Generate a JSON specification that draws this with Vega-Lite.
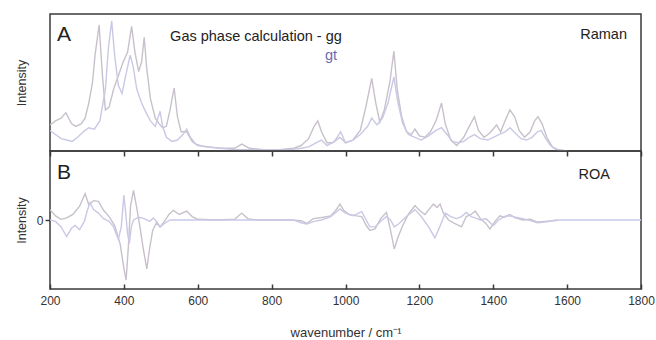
{
  "$schema": "https://vega.github.io/schema/vega-lite/v6.json",
  "padding": {"left": 14, "top": 13, "right": 1, "bottom": 2},
  "background": "white",
  "config": {
    "font": "Liberation Sans",
    "view": {"stroke": "#3a3a3a", "strokeWidth": 1.5},
    "axis": {"grid": false, "labelFont": "Liberation Sans", "titleFont": "Liberation Sans", "titleFontWeight": "normal", "labelColor": "#333", "titleColor": "#333", "tickColor": "#3a3a3a", "tickWidth": 1.5}
  },
  "datasets": {
    "spec": [
      {"p":"A","s":"gg","w":200,"v":19},{"p":"A","s":"gg","w":215,"v":22},{"p":"A","s":"gg","w":230,"v":24},{"p":"A","s":"gg","w":243,"v":28},{"p":"A","s":"gg","w":258,"v":20},{"p":"A","s":"gg","w":270,"v":18},{"p":"A","s":"gg","w":285,"v":20},{"p":"A","s":"gg","w":295,"v":24},{"p":"A","s":"gg","w":305,"v":35},{"p":"A","s":"gg","w":315,"v":50},{"p":"A","s":"gg","w":322,"v":70},{"p":"A","s":"gg","w":333,"v":92},{"p":"A","s":"gg","w":342,"v":55},{"p":"A","s":"gg","w":350,"v":30},{"p":"A","s":"gg","w":360,"v":32},{"p":"A","s":"gg","w":372,"v":45},{"p":"A","s":"gg","w":385,"v":55},{"p":"A","s":"gg","w":398,"v":65},{"p":"A","s":"gg","w":410,"v":72},{"p":"A","s":"gg","w":421,"v":91},{"p":"A","s":"gg","w":430,"v":72},{"p":"A","s":"gg","w":440,"v":58},{"p":"A","s":"gg","w":448,"v":65},{"p":"A","s":"gg","w":455,"v":83},{"p":"A","s":"gg","w":462,"v":60},{"p":"A","s":"gg","w":472,"v":38},{"p":"A","s":"gg","w":485,"v":24},{"p":"A","s":"gg","w":495,"v":20},{"p":"A","s":"gg","w":505,"v":17},{"p":"A","s":"gg","w":515,"v":18},{"p":"A","s":"gg","w":525,"v":30},{"p":"A","s":"gg","w":536,"v":46},{"p":"A","s":"gg","w":545,"v":25},{"p":"A","s":"gg","w":555,"v":14},{"p":"A","s":"gg","w":570,"v":14},{"p":"A","s":"gg","w":585,"v":7},{"p":"A","s":"gg","w":600,"v":4},{"p":"A","s":"gg","w":630,"v":3},{"p":"A","s":"gg","w":660,"v":2},{"p":"A","s":"gg","w":700,"v":2},{"p":"A","s":"gg","w":719,"v":5},{"p":"A","s":"gg","w":740,"v":2},{"p":"A","s":"gg","w":780,"v":1},{"p":"A","s":"gg","w":820,"v":1},{"p":"A","s":"gg","w":860,"v":2},{"p":"A","s":"gg","w":880,"v":4},{"p":"A","s":"gg","w":900,"v":9},{"p":"A","s":"gg","w":915,"v":18},{"p":"A","s":"gg","w":925,"v":22},{"p":"A","s":"gg","w":935,"v":14},{"p":"A","s":"gg","w":950,"v":6},{"p":"A","s":"gg","w":965,"v":6},{"p":"A","s":"gg","w":985,"v":10},{"p":"A","s":"gg","w":1000,"v":6},{"p":"A","s":"gg","w":1020,"v":8},{"p":"A","s":"gg","w":1040,"v":15},{"p":"A","s":"gg","w":1055,"v":32},{"p":"A","s":"gg","w":1071,"v":53},{"p":"A","s":"gg","w":1082,"v":35},{"p":"A","s":"gg","w":1093,"v":21},{"p":"A","s":"gg","w":1105,"v":30},{"p":"A","s":"gg","w":1120,"v":50},{"p":"A","s":"gg","w":1131,"v":73},{"p":"A","s":"gg","w":1140,"v":45},{"p":"A","s":"gg","w":1152,"v":25},{"p":"A","s":"gg","w":1165,"v":14},{"p":"A","s":"gg","w":1178,"v":12},{"p":"A","s":"gg","w":1188,"v":16},{"p":"A","s":"gg","w":1200,"v":11},{"p":"A","s":"gg","w":1215,"v":10},{"p":"A","s":"gg","w":1230,"v":14},{"p":"A","s":"gg","w":1245,"v":22},{"p":"A","s":"gg","w":1260,"v":35},{"p":"A","s":"gg","w":1270,"v":20},{"p":"A","s":"gg","w":1285,"v":8},{"p":"A","s":"gg","w":1301,"v":4},{"p":"A","s":"gg","w":1320,"v":10},{"p":"A","s":"gg","w":1335,"v":18},{"p":"A","s":"gg","w":1349,"v":25},{"p":"A","s":"gg","w":1360,"v":15},{"p":"A","s":"gg","w":1375,"v":10},{"p":"A","s":"gg","w":1390,"v":13},{"p":"A","s":"gg","w":1409,"v":19},{"p":"A","s":"gg","w":1420,"v":14},{"p":"A","s":"gg","w":1432,"v":22},{"p":"A","s":"gg","w":1445,"v":30},{"p":"A","s":"gg","w":1458,"v":25},{"p":"A","s":"gg","w":1470,"v":15},{"p":"A","s":"gg","w":1485,"v":10},{"p":"A","s":"gg","w":1500,"v":14},{"p":"A","s":"gg","w":1512,"v":22},{"p":"A","s":"gg","w":1521,"v":25},{"p":"A","s":"gg","w":1532,"v":20},{"p":"A","s":"gg","w":1545,"v":10},{"p":"A","s":"gg","w":1560,"v":3},{"p":"A","s":"gg","w":1575,"v":1},{"p":"A","s":"gg","w":1600,"v":0},
      {"p":"A","s":"gt","w":200,"v":15},{"p":"A","s":"gt","w":215,"v":12},{"p":"A","s":"gt","w":230,"v":9},{"p":"A","s":"gt","w":245,"v":8},{"p":"A","s":"gt","w":260,"v":7},{"p":"A","s":"gt","w":275,"v":10},{"p":"A","s":"gt","w":290,"v":14},{"p":"A","s":"gt","w":305,"v":17},{"p":"A","s":"gt","w":320,"v":16},{"p":"A","s":"gt","w":335,"v":22},{"p":"A","s":"gt","w":350,"v":45},{"p":"A","s":"gt","w":358,"v":75},{"p":"A","s":"gt","w":367,"v":95},{"p":"A","s":"gt","w":375,"v":70},{"p":"A","s":"gt","w":385,"v":48},{"p":"A","s":"gt","w":395,"v":42},{"p":"A","s":"gt","w":405,"v":55},{"p":"A","s":"gt","w":417,"v":70},{"p":"A","s":"gt","w":425,"v":62},{"p":"A","s":"gt","w":435,"v":45},{"p":"A","s":"gt","w":448,"v":35},{"p":"A","s":"gt","w":460,"v":28},{"p":"A","s":"gt","w":472,"v":22},{"p":"A","s":"gt","w":485,"v":18},{"p":"A","s":"gt","w":498,"v":29},{"p":"A","s":"gt","w":505,"v":18},{"p":"A","s":"gt","w":515,"v":10},{"p":"A","s":"gt","w":530,"v":7},{"p":"A","s":"gt","w":545,"v":8},{"p":"A","s":"gt","w":560,"v":12},{"p":"A","s":"gt","w":570,"v":16},{"p":"A","s":"gt","w":580,"v":10},{"p":"A","s":"gt","w":595,"v":5},{"p":"A","s":"gt","w":620,"v":3},{"p":"A","s":"gt","w":660,"v":2},{"p":"A","s":"gt","w":700,"v":1},{"p":"A","s":"gt","w":740,"v":1},{"p":"A","s":"gt","w":800,"v":1},{"p":"A","s":"gt","w":850,"v":1},{"p":"A","s":"gt","w":880,"v":2},{"p":"A","s":"gt","w":900,"v":3},{"p":"A","s":"gt","w":920,"v":6},{"p":"A","s":"gt","w":935,"v":8},{"p":"A","s":"gt","w":950,"v":4},{"p":"A","s":"gt","w":970,"v":7},{"p":"A","s":"gt","w":987,"v":14},{"p":"A","s":"gt","w":1000,"v":6},{"p":"A","s":"gt","w":1020,"v":8},{"p":"A","s":"gt","w":1040,"v":12},{"p":"A","s":"gt","w":1060,"v":18},{"p":"A","s":"gt","w":1071,"v":24},{"p":"A","s":"gt","w":1085,"v":19},{"p":"A","s":"gt","w":1100,"v":24},{"p":"A","s":"gt","w":1115,"v":35},{"p":"A","s":"gt","w":1131,"v":54},{"p":"A","s":"gt","w":1142,"v":35},{"p":"A","s":"gt","w":1155,"v":20},{"p":"A","s":"gt","w":1170,"v":12},{"p":"A","s":"gt","w":1188,"v":10},{"p":"A","s":"gt","w":1205,"v":8},{"p":"A","s":"gt","w":1225,"v":11},{"p":"A","s":"gt","w":1245,"v":15},{"p":"A","s":"gt","w":1260,"v":17},{"p":"A","s":"gt","w":1275,"v":12},{"p":"A","s":"gt","w":1290,"v":7},{"p":"A","s":"gt","w":1305,"v":6},{"p":"A","s":"gt","w":1320,"v":7},{"p":"A","s":"gt","w":1335,"v":10},{"p":"A","s":"gt","w":1349,"v":12},{"p":"A","s":"gt","w":1365,"v":9},{"p":"A","s":"gt","w":1385,"v":8},{"p":"A","s":"gt","w":1400,"v":10},{"p":"A","s":"gt","w":1415,"v":12},{"p":"A","s":"gt","w":1432,"v":14},{"p":"A","s":"gt","w":1445,"v":17},{"p":"A","s":"gt","w":1460,"v":13},{"p":"A","s":"gt","w":1475,"v":9},{"p":"A","s":"gt","w":1490,"v":8},{"p":"A","s":"gt","w":1505,"v":10},{"p":"A","s":"gt","w":1520,"v":14},{"p":"A","s":"gt","w":1530,"v":15},{"p":"A","s":"gt","w":1542,"v":9},{"p":"A","s":"gt","w":1555,"v":4},{"p":"A","s":"gt","w":1570,"v":1},{"p":"A","s":"gt","w":1600,"v":0},
      {"p":"B","s":"gg","w":200,"v":15},{"p":"B","s":"gg","w":215,"v":6},{"p":"B","s":"gg","w":230,"v":1},{"p":"B","s":"gg","w":245,"v":3},{"p":"B","s":"gg","w":262,"v":8},{"p":"B","s":"gg","w":280,"v":20},{"p":"B","s":"gg","w":295,"v":38},{"p":"B","s":"gg","w":305,"v":22},{"p":"B","s":"gg","w":318,"v":28},{"p":"B","s":"gg","w":331,"v":27},{"p":"B","s":"gg","w":345,"v":14},{"p":"B","s":"gg","w":360,"v":5},{"p":"B","s":"gg","w":375,"v":-8},{"p":"B","s":"gg","w":390,"v":-35},{"p":"B","s":"gg","w":400,"v":-70},{"p":"B","s":"gg","w":406,"v":-87},{"p":"B","s":"gg","w":412,"v":-40},{"p":"B","s":"gg","w":418,"v":20},{"p":"B","s":"gg","w":426,"v":43},{"p":"B","s":"gg","w":434,"v":20},{"p":"B","s":"gg","w":442,"v":-5},{"p":"B","s":"gg","w":452,"v":-40},{"p":"B","s":"gg","w":462,"v":-71},{"p":"B","s":"gg","w":470,"v":-40},{"p":"B","s":"gg","w":478,"v":-15},{"p":"B","s":"gg","w":488,"v":-4},{"p":"B","s":"gg","w":498,"v":-10},{"p":"B","s":"gg","w":510,"v":-2},{"p":"B","s":"gg","w":522,"v":8},{"p":"B","s":"gg","w":534,"v":14},{"p":"B","s":"gg","w":550,"v":8},{"p":"B","s":"gg","w":570,"v":13},{"p":"B","s":"gg","w":585,"v":5},{"p":"B","s":"gg","w":600,"v":1},{"p":"B","s":"gg","w":650,"v":0},{"p":"B","s":"gg","w":700,"v":1},{"p":"B","s":"gg","w":719,"v":10},{"p":"B","s":"gg","w":735,"v":2},{"p":"B","s":"gg","w":760,"v":0},{"p":"B","s":"gg","w":850,"v":0},{"p":"B","s":"gg","w":880,"v":-1},{"p":"B","s":"gg","w":895,"v":-5},{"p":"B","s":"gg","w":913,"v":2},{"p":"B","s":"gg","w":940,"v":4},{"p":"B","s":"gg","w":960,"v":6},{"p":"B","s":"gg","w":975,"v":15},{"p":"B","s":"gg","w":985,"v":23},{"p":"B","s":"gg","w":995,"v":14},{"p":"B","s":"gg","w":1010,"v":8},{"p":"B","s":"gg","w":1030,"v":6},{"p":"B","s":"gg","w":1044,"v":5},{"p":"B","s":"gg","w":1056,"v":-8},{"p":"B","s":"gg","w":1066,"v":-15},{"p":"B","s":"gg","w":1080,"v":-13},{"p":"B","s":"gg","w":1095,"v":2},{"p":"B","s":"gg","w":1111,"v":11},{"p":"B","s":"gg","w":1122,"v":-15},{"p":"B","s":"gg","w":1132,"v":-42},{"p":"B","s":"gg","w":1142,"v":-25},{"p":"B","s":"gg","w":1155,"v":-8},{"p":"B","s":"gg","w":1170,"v":8},{"p":"B","s":"gg","w":1188,"v":21},{"p":"B","s":"gg","w":1200,"v":14},{"p":"B","s":"gg","w":1215,"v":8},{"p":"B","s":"gg","w":1230,"v":18},{"p":"B","s":"gg","w":1238,"v":23},{"p":"B","s":"gg","w":1248,"v":18},{"p":"B","s":"gg","w":1256,"v":23},{"p":"B","s":"gg","w":1265,"v":10},{"p":"B","s":"gg","w":1279,"v":0},{"p":"B","s":"gg","w":1295,"v":-5},{"p":"B","s":"gg","w":1314,"v":-10},{"p":"B","s":"gg","w":1327,"v":5},{"p":"B","s":"gg","w":1340,"v":8},{"p":"B","s":"gg","w":1351,"v":13},{"p":"B","s":"gg","w":1365,"v":2},{"p":"B","s":"gg","w":1380,"v":-5},{"p":"B","s":"gg","w":1391,"v":-13},{"p":"B","s":"gg","w":1405,"v":-2},{"p":"B","s":"gg","w":1418,"v":6},{"p":"B","s":"gg","w":1430,"v":4},{"p":"B","s":"gg","w":1445,"v":8},{"p":"B","s":"gg","w":1460,"v":3},{"p":"B","s":"gg","w":1480,"v":0},{"p":"B","s":"gg","w":1500,"v":1},{"p":"B","s":"gg","w":1520,"v":-3},{"p":"B","s":"gg","w":1540,"v":-2},{"p":"B","s":"gg","w":1560,"v":-1},{"p":"B","s":"gg","w":1575,"v":0},
      {"p":"B","s":"gt","w":200,"v":0},{"p":"B","s":"gt","w":215,"v":-2},{"p":"B","s":"gt","w":230,"v":-10},{"p":"B","s":"gt","w":245,"v":-24},{"p":"B","s":"gt","w":258,"v":-12},{"p":"B","s":"gt","w":268,"v":-8},{"p":"B","s":"gt","w":280,"v":-14},{"p":"B","s":"gt","w":293,"v":-2},{"p":"B","s":"gt","w":300,"v":12},{"p":"B","s":"gt","w":308,"v":25},{"p":"B","s":"gt","w":318,"v":15},{"p":"B","s":"gt","w":331,"v":10},{"p":"B","s":"gt","w":345,"v":2},{"p":"B","s":"gt","w":360,"v":-2},{"p":"B","s":"gt","w":372,"v":-10},{"p":"B","s":"gt","w":385,"v":-28},{"p":"B","s":"gt","w":393,"v":-10},{"p":"B","s":"gt","w":400,"v":36},{"p":"B","s":"gt","w":405,"v":10},{"p":"B","s":"gt","w":410,"v":-20},{"p":"B","s":"gt","w":415,"v":-34},{"p":"B","s":"gt","w":420,"v":-10},{"p":"B","s":"gt","w":426,"v":0},{"p":"B","s":"gt","w":440,"v":4},{"p":"B","s":"gt","w":455,"v":2},{"p":"B","s":"gt","w":470,"v":-2},{"p":"B","s":"gt","w":480,"v":3},{"p":"B","s":"gt","w":490,"v":-3},{"p":"B","s":"gt","w":498,"v":-10},{"p":"B","s":"gt","w":510,"v":-5},{"p":"B","s":"gt","w":525,"v":0},{"p":"B","s":"gt","w":550,"v":0},{"p":"B","s":"gt","w":600,"v":0},{"p":"B","s":"gt","w":700,"v":0},{"p":"B","s":"gt","w":800,"v":0},{"p":"B","s":"gt","w":860,"v":0},{"p":"B","s":"gt","w":880,"v":-4},{"p":"B","s":"gt","w":895,"v":-6},{"p":"B","s":"gt","w":915,"v":-2},{"p":"B","s":"gt","w":935,"v":0},{"p":"B","s":"gt","w":960,"v":5},{"p":"B","s":"gt","w":985,"v":16},{"p":"B","s":"gt","w":1000,"v":10},{"p":"B","s":"gt","w":1020,"v":6},{"p":"B","s":"gt","w":1044,"v":12},{"p":"B","s":"gt","w":1056,"v":0},{"p":"B","s":"gt","w":1066,"v":-10},{"p":"B","s":"gt","w":1080,"v":-10},{"p":"B","s":"gt","w":1095,"v":-2},{"p":"B","s":"gt","w":1111,"v":5},{"p":"B","s":"gt","w":1122,"v":0},{"p":"B","s":"gt","w":1132,"v":-10},{"p":"B","s":"gt","w":1145,"v":-5},{"p":"B","s":"gt","w":1165,"v":5},{"p":"B","s":"gt","w":1188,"v":15},{"p":"B","s":"gt","w":1205,"v":5},{"p":"B","s":"gt","w":1225,"v":-10},{"p":"B","s":"gt","w":1242,"v":-26},{"p":"B","s":"gt","w":1255,"v":-10},{"p":"B","s":"gt","w":1270,"v":10},{"p":"B","s":"gt","w":1285,"v":5},{"p":"B","s":"gt","w":1300,"v":2},{"p":"B","s":"gt","w":1314,"v":5},{"p":"B","s":"gt","w":1327,"v":11},{"p":"B","s":"gt","w":1340,"v":5},{"p":"B","s":"gt","w":1351,"v":3},{"p":"B","s":"gt","w":1365,"v":0},{"p":"B","s":"gt","w":1380,"v":2},{"p":"B","s":"gt","w":1400,"v":-8},{"p":"B","s":"gt","w":1415,"v":0},{"p":"B","s":"gt","w":1430,"v":5},{"p":"B","s":"gt","w":1445,"v":6},{"p":"B","s":"gt","w":1460,"v":4},{"p":"B","s":"gt","w":1480,"v":2},{"p":"B","s":"gt","w":1500,"v":-1},{"p":"B","s":"gt","w":1520,"v":-4},{"p":"B","s":"gt","w":1540,"v":-3},{"p":"B","s":"gt","w":1560,"v":-1},{"p":"B","s":"gt","w":1580,"v":0},{"p":"B","s":"gt","w":1600,"v":0},{"p":"B","s":"gt","w":1700,"v":0},{"p":"B","s":"gt","w":1800,"v":0}
    ]
  },
  "spacing": 0,
  "bounds": "flush",
  "vconcat": [
    {
      "width": 591,
      "height": 137,
      "layer": [
        {
          "data": {"name": "spec"},
          "transform": [{"filter": "datum.p === 'A'"}],
          "mark": {"type": "line", "strokeWidth": 1.4, "clip": true},
          "encoding": {
            "x": {"field": "w", "type": "quantitative", "scale": {"domain": [200, 1800], "nice": false, "zero": false},
                  "axis": {"values": [200,300,400,500,600,700,800,900,1000,1100,1200,1300,1400,1500,1600,1700,1800], "labels": false, "domain": false, "ticks": true, "tickSize": 5, "title": null}},
            "y": {"field": "v", "type": "quantitative", "scale": {"domain": [0, 100], "nice": false},
                  "axis": {"title": "Intensity", "labels": false, "ticks": false, "domain": false, "titleFontSize": 12.5, "titlePadding": 22}},
            "color": {"field": "s", "type": "nominal", "scale": {"domain": ["gg", "gt"], "range": ["#c8c0cb", "#c9c9e6"]}, "legend": null}
          }
        },
        {
          "data": {"values": [{"t": "A"}]},
          "mark": {"type": "text", "align": "left", "baseline": "alphabetic", "fontSize": 21, "color": "#222"},
          "encoding": {"x": {"datum": 219, "type": "quantitative"}, "y": {"datum": 80, "type": "quantitative"}, "text": {"field": "t"}}
        },
        {
          "data": {"values": [{"t": "Gas phase calculation - gg"}]},
          "mark": {"type": "text", "align": "right", "baseline": "alphabetic", "fontSize": 14.5, "color": "#222"},
          "encoding": {"x": {"datum": 990, "type": "quantitative"}, "y": {"datum": 80.5, "type": "quantitative"}, "text": {"field": "t"}}
        },
        {
          "data": {"values": [{"t": "gt"}]},
          "mark": {"type": "text", "align": "right", "baseline": "alphabetic", "fontSize": 14.5, "color": "#6a6ab2"},
          "encoding": {"x": {"datum": 977, "type": "quantitative"}, "y": {"datum": 66.5, "type": "quantitative"}, "text": {"field": "t"}}
        },
        {
          "data": {"values": [{"t": "Raman"}]},
          "mark": {"type": "text", "align": "right", "baseline": "alphabetic", "fontSize": 14.5, "color": "#222"},
          "encoding": {"x": {"datum": 1762, "type": "quantitative"}, "y": {"datum": 81.5, "type": "quantitative"}, "text": {"field": "t"}}
        }
      ]
    },
    {
      "width": 591,
      "height": 138,
      "layer": [
        {
          "data": {"name": "spec"},
          "transform": [{"filter": "datum.p === 'B'"}],
          "mark": {"type": "line", "strokeWidth": 1.4, "clip": true},
          "encoding": {
            "x": {"field": "w", "type": "quantitative", "scale": {"domain": [200, 1800], "nice": false, "zero": false},
                  "axis": {"values": [200,300,400,500,600,700,800,900,1000,1100,1200,1300,1400,1500,1600,1700,1800], "format": "d", "labelExpr": "datum.value % 200 === 0 ? datum.label : ''", "labelFontSize": 12, "labelOverlap": false, "labelFlush": false, "domain": false, "ticks": true, "tickSize": -5, "labelPadding": 11, "title": "wavenumber / cm⁻¹", "titleFontSize": 13, "titlePadding": 20}},
            "y": {"field": "v", "type": "quantitative", "scale": {"domain": [-100, 100], "nice": false},
                  "axis": {"title": "Intensity", "values": [0], "labelFontSize": 12, "tickSize": 5, "labelPadding": 2, "domain": false, "titleFontSize": 12.5, "titlePadding": 8}},
            "color": {"field": "s", "type": "nominal", "scale": {"domain": ["gg", "gt"], "range": ["#c8c0cb", "#c9c9e6"]}, "legend": null}
          }
        },
        {
          "data": {"values": [{"t": "B"}]},
          "mark": {"type": "text", "align": "left", "baseline": "alphabetic", "fontSize": 21, "color": "#222"},
          "encoding": {"x": {"datum": 219, "type": "quantitative"}, "y": {"datum": 59, "type": "quantitative"}, "text": {"field": "t"}}
        },
        {
          "data": {"values": [{"t": "ROA"}]},
          "mark": {"type": "text", "align": "right", "baseline": "alphabetic", "fontSize": 14.5, "color": "#222"},
          "encoding": {"x": {"datum": 1716, "type": "quantitative"}, "y": {"datum": 59, "type": "quantitative"}, "text": {"field": "t"}}
        }
      ]
    }
  ]
}
